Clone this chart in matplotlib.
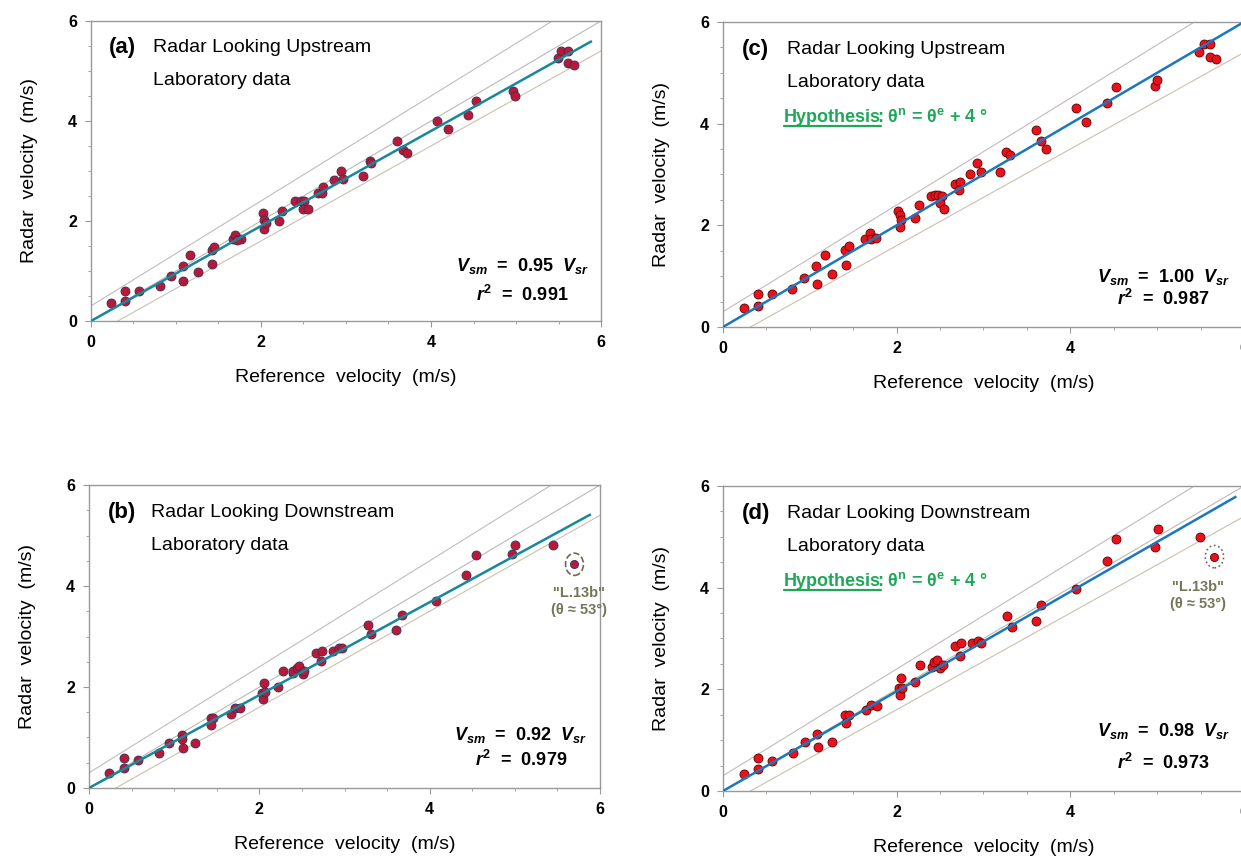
import matplotlib
matplotlib.use('Agg')
import matplotlib.pyplot as plt
from matplotlib.patches import Ellipse
from matplotlib.ticker import MultipleLocator

plt.rcParams['font.family'] = ['Liberation Sans', 'DejaVu Sans']
plt.rcParams['mathtext.fontset'] = 'custom'
plt.rcParams['mathtext.rm'] = 'Liberation Sans:bold'
plt.rcParams['mathtext.it'] = 'Liberation Sans:bold:italic'
plt.rcParams['mathtext.bf'] = 'Liberation Sans:bold'

# (a) upstream, laboratory data
ref_a = [0.24, 0.40, 0.40, 0.56, 0.81, 0.94, 1.08, 1.08, 1.17, 1.26, 1.42, 1.45, 1.42,
         1.67, 1.70, 1.77, 1.72, 2.02, 2.04, 2.04, 2.06, 2.21, 2.25, 2.40, 2.47, 2.51,
         2.49, 2.55, 2.67, 2.72, 2.73, 2.86, 2.94, 2.97, 3.20, 3.28, 3.30, 3.60, 3.67,
         3.72, 4.07, 4.20, 4.43, 4.53, 4.97, 4.99, 5.49, 5.53, 5.61, 5.61, 5.68]
rad_a = [0.35, 0.60, 0.39, 0.60, 0.69, 0.89, 1.10, 0.79, 1.31, 0.97, 1.41, 1.48, 1.13,
         1.63, 1.71, 1.63, 1.61, 2.15, 2.01, 1.83, 1.95, 1.99, 2.19, 2.39, 2.39, 2.39,
         2.24, 2.23, 2.56, 2.55, 2.67, 2.81, 2.99, 2.83, 2.90, 3.20, 3.16, 3.60, 3.41,
         3.35, 4.00, 3.83, 4.11, 4.40, 4.60, 4.50, 5.25, 5.40, 5.40, 5.15, 5.11]

# (b) downstream, laboratory data
ref_b = [0.23, 0.41, 0.41, 0.57, 0.82, 0.94, 1.09, 1.09, 1.10, 1.25, 1.43, 1.46, 1.43,
         1.67, 1.71, 1.77, 2.03, 2.05, 2.04, 2.07, 2.22, 2.28, 2.39, 2.40, 2.44, 2.47,
         2.51, 2.53, 2.67, 2.74, 2.72, 2.87, 2.93, 2.97, 3.28, 3.31, 3.61, 3.67, 4.07,
         4.43, 4.54, 4.97, 5.00, 5.45]
rad_b = [0.30, 0.60, 0.40, 0.55, 0.70, 0.90, 1.05, 0.98, 0.80, 0.90, 1.39, 1.39, 1.25,
         1.47, 1.59, 1.58, 1.89, 2.07, 1.76, 1.91, 2.00, 2.31, 2.27, 2.32, 2.37, 2.42,
         2.25, 2.31, 2.67, 2.72, 2.52, 2.71, 2.77, 2.77, 3.22, 3.04, 3.12, 3.42, 3.71,
         4.22, 4.62, 4.64, 4.82, 4.82]

# (c) upstream, hypothesis theta_n = theta_e + 4 deg
ref_c = [0.24, 0.40, 0.40, 0.56, 0.80, 0.93, 1.07, 1.08, 1.17, 1.25, 1.41, 1.45, 1.42,
         1.64, 1.69, 1.71, 1.76, 2.02, 2.04, 2.05, 2.04, 2.21, 2.26, 2.40, 2.44, 2.48,
         2.52, 2.50, 2.54, 2.67, 2.73, 2.72, 2.85, 2.93, 2.97, 3.19, 3.26, 3.31, 3.60,
         3.66, 3.72, 4.06, 4.18, 4.42, 4.53, 4.97, 5.00, 5.48, 5.54, 5.61, 5.61, 5.68]
rad_c = [0.38, 0.64, 0.42, 0.64, 0.74, 0.97, 1.19, 0.85, 1.42, 1.04, 1.52, 1.60, 1.21,
         1.73, 1.85, 1.73, 1.75, 2.29, 2.20, 2.11, 1.97, 2.14, 2.39, 2.58, 2.60, 2.59,
         2.58, 2.43, 2.33, 2.81, 2.85, 2.70, 3.01, 3.23, 3.05, 3.05, 3.44, 3.39, 3.87,
         3.65, 3.51, 4.30, 4.03, 4.41, 4.73, 4.75, 4.85, 5.41, 5.57, 5.57, 5.31, 5.27]

# (d) downstream, hypothesis theta_n = theta_e + 4 deg
ref_d = [0.24, 0.40, 0.40, 0.56, 0.81, 0.94, 1.08, 1.09, 1.25, 1.41, 1.45, 1.42, 1.65,
         1.71, 1.77, 2.03, 2.05, 2.04, 2.06, 2.21, 2.27, 2.41, 2.43, 2.47, 2.50, 2.53,
         2.67, 2.74, 2.73, 2.87, 2.94, 2.97, 3.27, 3.33, 3.61, 3.66, 4.06, 4.42, 4.53,
         4.98, 5.01, 5.49]
rad_d = [0.33, 0.64, 0.43, 0.59, 0.75, 0.97, 1.12, 0.86, 0.97, 1.49, 1.49, 1.34, 1.59,
         1.70, 1.68, 2.02, 2.22, 1.89, 2.02, 2.15, 2.47, 2.43, 2.53, 2.58, 2.42, 2.47,
         2.86, 2.91, 2.66, 2.91, 2.95, 2.91, 3.44, 3.22, 3.34, 3.66, 3.98, 4.52, 4.95,
         4.80, 5.16, 4.99]

# outlier run "L.13b" in the downstream panels
outlier_b = (5.70, 4.43)
outlier_d = (5.66, 4.61)

slopes = [0.95, 0.92, 1.00, 0.98]
r2 = ['0.991', '0.979', '0.987', '0.973']
fit_end = [5.88, 5.88, 6.0, 5.9]

green = '#1fa85a'
fig = plt.figure(figsize=(12.41, 8.58), dpi=100)

panels = [
    ('a', 'Radar Looking Upstream', ref_a, rad_a, [0.0733, 0.6259, 0.411, 0.3497]),
    ('b', 'Radar Looking Downstream', ref_b, rad_b, [0.0717, 0.0816, 0.4118, 0.3531]),
    ('c', 'Radar Looking Upstream', ref_c, rad_c, [0.5826, 0.6189, 0.4198, 0.3555]),
    ('d', 'Radar Looking Downstream', ref_d, rad_d, [0.5826, 0.0781, 0.4198, 0.3555]),
]
vsm_y = {'a': (0.183, 0.087), 'b': (0.175, 0.092), 'c': (0.165, 0.092), 'd': (0.197, 0.092)}

for i, (tag, title, xs, ys, rect) in enumerate(panels):
    ax = fig.add_axes(rect)
    hyp = tag in 'cd'
    fit_col = '#1b78bf' if hyp else '#17879a'
    pt_col = '#e8121c' if hyp else '#bb1838'
    pt_edge = '#600000' if hyp else '#33305a'

    # 1:1 line and +/- (0.3 + 5%) envelope
    gx = [0, 6.5]
    ax.plot(gx, gx, color='#bcb8b8', lw=0.8, zorder=1)
    ax.plot(gx, [1.05 * v + 0.3 for v in gx], color='#c4baba', lw=0.8, zorder=1)
    ax.plot(gx, [0.95 * v - 0.3 for v in gx], color='#cdbfb0', lw=0.8, zorder=1)

    ax.scatter(xs, ys, s=42, c=pt_col, edgecolors=pt_edge, linewidths=0.6, zorder=3)
    ax.plot([0, fit_end[i]], [0, slopes[i] * fit_end[i]], color=fit_col, lw=1.8, zorder=4)

    if tag in 'bd':
        ox, oy = outlier_b if tag == 'b' else outlier_d
        ax.scatter([ox], [oy], s=34, c=pt_col, edgecolors=pt_edge, linewidths=0.6, zorder=3)
        ax.add_patch(Ellipse((ox, oy), 0.21, 0.44, fill=False, ec='#6a6a50', lw=1.2,
                             ls='--' if tag == 'b' else ':', zorder=3))
        lx, ly = (5.75, 3.87) if tag == 'b' else (5.47, 4.02)
        ax.text(lx, ly, '"L.13b"', ha='center', va='center', fontsize=10.5,
                fontweight='bold', color='#75755a')
        ax.text(lx, ly - 0.34, '(θ ≈ 53°)', ha='center', va='center', fontsize=10.5,
                fontweight='bold', color='#75755a')

    ax.text(0.036, 0.91, '(%s)' % tag, transform=ax.transAxes, fontsize=16,
            fontweight='bold', va='center')
    ax.text(0.122, 0.91, title, transform=ax.transAxes, fontsize=14, va='center')
    ax.text(0.122, 0.80, 'Laboratory data', transform=ax.transAxes, fontsize=14, va='center')
    if hyp:
        h = ax.text(0.117, 0.672, 'Hypothesis', transform=ax.transAxes, fontsize=13,
                    fontweight='bold', color=green, va='baseline')
        ax.annotate(r': $\mathrm{\theta}^{\mathrm{n}}$ = $\mathrm{\theta}^{\mathrm{e}}$ + 4 °',
                    xy=(1.0, 0.672), xycoords=(h, 'axes fraction'),
                    xytext=(-2.5, 0), textcoords='offset points', fontsize=13,
                    fontweight='bold', color=green, va='baseline')
        ax.annotate('', xy=(0, 0), xycoords=h, xytext=(1, 0), textcoords=h,
                    arrowprops=dict(arrowstyle='-', color=green, lw=1.6,
                                    shrinkA=0, shrinkB=0))

    vy, ry = vsm_y[tag]
    ax.text(0.845, vy, r'$V_{sm}$  =  %.2f  $V_{sr}$' % slopes[i], transform=ax.transAxes,
            fontsize=13, fontweight='bold', ha='center', va='center')
    ax.text(0.845, ry, r'$r^{\mathrm{2}}$  =  ' + r2[i], transform=ax.transAxes,
            fontsize=13, fontweight='bold', ha='center', va='center')

    ax.set_xlim(0, 6)
    ax.set_ylim(0, 6)
    ax.xaxis.set_major_locator(MultipleLocator(2))
    ax.yaxis.set_major_locator(MultipleLocator(2))
    ax.xaxis.set_minor_locator(MultipleLocator(0.5))
    ax.yaxis.set_minor_locator(MultipleLocator(0.5))
    ax.tick_params(which='major', length=4, color='#999999', labelsize=11.5, pad=6)
    ax.tick_params(which='minor', length=2.5, color='#999999')
    for lab in ax.get_xticklabels() + ax.get_yticklabels():
        lab.set_fontweight('bold')
    for sp in ax.spines.values():
        sp.set_color('#999999')
        sp.set_linewidth(1.0)

    ax.set_xlabel('Reference  velocity  (m/s)', fontsize=14, labelpad=14)
    ax.set_ylabel('Radar  velocity  (m/s)', fontsize=14, labelpad=22)

fig.savefig('out.png', dpi=100, facecolor='white')
